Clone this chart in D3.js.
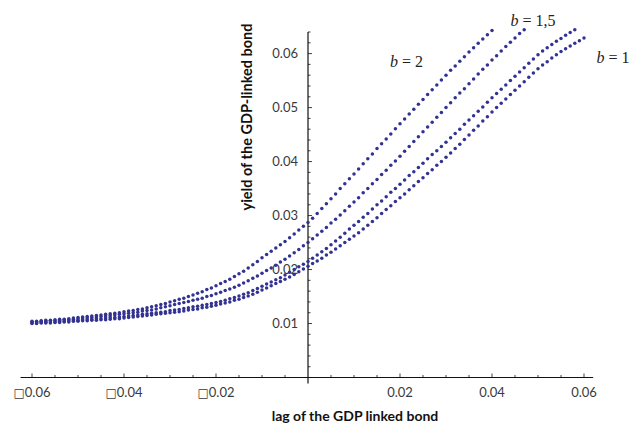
<!DOCTYPE html>
<html>
<head>
<meta charset="utf-8">
<script src="https://cdn.jsdelivr.net/npm/d3@7"></script>
<style>
  html, body { margin: 0; padding: 0; background: #fff; }
  svg { display: block; }
</style>
</head>
<body>
<svg id="chart" width="630" height="426"></svg>
<script>
// Lag grid shared by all series (step 0.001, from -0.06 upwards)
const lagGrid = d3.range(-60, 61).map(i => i / 1000);

// Yield of the GDP-linked bond for each elasticity b
const yieldB2 = [
  0.0104,0.0104,0.0105,0.0106,0.0106,0.0107,0.0108,0.0108,0.0109,0.0110,
  0.0111,0.0112,0.0113,0.0114,0.0115,0.0116,0.0117,0.0118,0.0119,0.0120,
  0.0122,0.0123,0.0124,0.0126,0.0127,0.0129,0.0131,0.0133,0.0135,0.0137,
  0.0140,0.0142,0.0145,0.0147,0.0150,0.0153,0.0156,0.0159,0.0163,0.0166,
  0.0170,0.0174,0.0178,0.0182,0.0187,0.0192,0.0197,0.0203,0.0209,0.0215,
  0.0222,0.0228,0.0234,0.0240,0.0246,0.0252,0.0259,0.0266,0.0273,0.0280,
  0.0287,0.0295,0.0304,0.0313,0.0322,0.0331,0.0340,0.0350,0.0359,0.0368,
  0.0377,0.0386,0.0396,0.0405,0.0414,0.0424,0.0433,0.0442,0.0451,0.0461,
  0.0470,0.0479,0.0488,0.0497,0.0506,0.0515,0.0524,0.0533,0.0542,0.0551,
  0.0560,0.0569,0.0577,0.0586,0.0594,0.0603,0.0611,0.0619,0.0627,0.0635,
  0.0643
];
const yieldB15 = [
  0.0103,0.0103,0.0104,0.0104,0.0105,0.0105,0.0106,0.0107,0.0107,0.0108,
  0.0109,0.0110,0.0110,0.0111,0.0112,0.0113,0.0114,0.0115,0.0116,0.0117,
  0.0118,0.0119,0.0120,0.0121,0.0123,0.0124,0.0125,0.0127,0.0129,0.0131,
  0.0133,0.0135,0.0137,0.0139,0.0141,0.0143,0.0145,0.0147,0.0150,0.0152,
  0.0155,0.0158,0.0161,0.0164,0.0167,0.0171,0.0175,0.0179,0.0184,0.0188,
  0.0193,0.0198,0.0203,0.0208,0.0214,0.0219,0.0225,0.0231,0.0237,0.0244,
  0.0250,0.0257,0.0264,0.0271,0.0278,0.0286,0.0293,0.0301,0.0309,0.0317,
  0.0325,0.0333,0.0342,0.0350,0.0359,0.0367,0.0376,0.0384,0.0393,0.0401,
  0.0410,0.0419,0.0428,0.0437,0.0446,0.0455,0.0464,0.0473,0.0482,0.0491,
  0.0500,0.0509,0.0518,0.0527,0.0535,0.0544,0.0553,0.0562,0.0571,0.0579,
  0.0588,0.0596,0.0605,0.0613,0.0621,0.0629,0.0637,0.0644
];
const yieldB1a = [
  0.0101,0.0101,0.0102,0.0102,0.0103,0.0103,0.0104,0.0104,0.0105,0.0105,
  0.0106,0.0107,0.0107,0.0108,0.0109,0.0109,0.0110,0.0111,0.0111,0.0112,
  0.0113,0.0114,0.0115,0.0116,0.0117,0.0118,0.0119,0.0120,0.0121,0.0122,
  0.0124,0.0125,0.0126,0.0128,0.0129,0.0131,0.0132,0.0134,0.0135,0.0137,
  0.0139,0.0141,0.0143,0.0146,0.0148,0.0151,0.0154,0.0157,0.0161,0.0165,
  0.0169,0.0173,0.0177,0.0181,0.0185,0.0190,0.0195,0.0200,0.0205,0.0210,
  0.0215,0.0221,0.0227,0.0233,0.0239,0.0246,0.0253,0.0260,0.0267,0.0275,
  0.0282,0.0289,0.0297,0.0304,0.0312,0.0320,0.0327,0.0335,0.0343,0.0350,
  0.0358,0.0366,0.0374,0.0381,0.0389,0.0397,0.0405,0.0413,0.0420,0.0428,
  0.0436,0.0444,0.0452,0.0460,0.0469,0.0477,0.0485,0.0493,0.0501,0.0510,
  0.0518,0.0526,0.0534,0.0542,0.0550,0.0558,0.0566,0.0574,0.0582,0.0590,
  0.0598,0.0605,0.0611,0.0617,0.0623,0.0628,0.0634,0.0639,0.0644
];
const yieldB1 = [
  0.0100,0.0100,0.0101,0.0101,0.0101,0.0102,0.0102,0.0103,0.0103,0.0104,
  0.0104,0.0105,0.0105,0.0106,0.0106,0.0107,0.0107,0.0108,0.0109,0.0109,
  0.0110,0.0111,0.0112,0.0113,0.0114,0.0115,0.0116,0.0117,0.0118,0.0119,
  0.0120,0.0121,0.0122,0.0123,0.0125,0.0126,0.0127,0.0129,0.0130,0.0132,
  0.0134,0.0136,0.0138,0.0140,0.0143,0.0145,0.0148,0.0151,0.0154,0.0158,
  0.0162,0.0166,0.0170,0.0174,0.0178,0.0182,0.0186,0.0191,0.0196,0.0201,
  0.0206,0.0211,0.0216,0.0221,0.0227,0.0232,0.0238,0.0244,0.0250,0.0256,
  0.0262,0.0268,0.0275,0.0282,0.0289,0.0296,0.0304,0.0311,0.0318,0.0326,
  0.0333,0.0340,0.0348,0.0355,0.0363,0.0370,0.0378,0.0385,0.0393,0.0400,
  0.0408,0.0416,0.0424,0.0432,0.0441,0.0449,0.0458,0.0466,0.0475,0.0483,
  0.0492,0.0500,0.0508,0.0516,0.0524,0.0532,0.0540,0.0548,0.0556,0.0564,
  0.0572,0.0579,0.0585,0.0592,0.0598,0.0604,0.0609,0.0614,0.0619,0.0624,
  0.0629
];

// Tick values and their labels (the minus sign shows as a box glyph)
const xTickValues = [-0.06, -0.04, -0.02, 0.02, 0.04, 0.06];
const xTickLabels = ["\u25A10.06", "\u25A10.04", "\u25A10.02", "0.02", "0.04", "0.06"];
const yTickValues = [0.01, 0.02, 0.03, 0.04, 0.05, 0.06];
const yTickLabels = ["0.01", "0.02", "0.03", "0.04", "0.05", "0.06"];

// Curve annotations
const curveLabels = [
  { b: "2",   lag: 0.0178, yld: 0.0575 },
  { b: "1,5", lag: 0.0440, yld: 0.0652 },
  { b: "1",   lag: 0.0627, yld: 0.0582 }
];

const seriesList = [yieldB2, yieldB15, yieldB1a, yieldB1];

const svg = d3.select("#chart");
const x = d3.scaleLinear().domain([-0.0625, 0.0620]).range([20.5, 593.2]);
const y = d3.scaleLinear().domain([0, 0.064]).range([377.5, 32]);

const axisColor = "#111";
const labelColor = "#3a3a3a";
const dotColor = "#323292";
const sansFont = "Lato, 'Open Sans', sans-serif";

// X axis line through y = 0
const gx = svg.append("g");
gx.append("line")
  .attr("x1", x.range()[0]).attr("x2", x.range()[1])
  .attr("y1", y(0)).attr("y2", y(0))
  .attr("stroke", axisColor).attr("stroke-width", 1);

// X minor ticks every 0.005, major at labelled values (drawn upward)
const xMinor = d3.range(-12, 13).map(i => i * 0.005).filter(v => Math.abs(v) > 1e-9);
gx.selectAll("line.xminor").data(xMinor).join("line")
  .attr("class", "xminor")
  .attr("x1", d => x(d)).attr("x2", d => x(d))
  .attr("y1", y(0)).attr("y2", d => y(0) - (xTickValues.some(t => Math.abs(t - d) < 1e-9) ? 4 : 2.5))
  .attr("stroke", axisColor).attr("stroke-width", 0.8);

const xLab = gx.selectAll("text.xlab").data(xTickValues).join("text")
  .attr("class", "xlab")
  .attr("x", d => x(d))
  .attr("y", y(0) + 19)
  .attr("text-anchor", "middle")
  .attr("font-family", sansFont)
  .attr("font-size", 13)
  .attr("fill", labelColor);
xLab.each(function (d, i) {
  const lab = xTickLabels[i];
  const t = d3.select(this);
  if (lab.startsWith("\u25A1")) {
    t.append("tspan").attr("font-family", "'DejaVu Sans', sans-serif").attr("font-size", 12).text("\u25A1");
    t.append("tspan").text(lab.slice(1));
  } else {
    t.text(lab);
  }
});

// Y axis line through x = 0
const gy = svg.append("g");
gy.append("line")
  .attr("x1", x(0)).attr("x2", x(0))
  .attr("y1", y.range()[1]).attr("y2", y(0) + 6)
  .attr("stroke", axisColor).attr("stroke-width", 1.2);

const yMinor = d3.range(1, 33).map(i => i * 0.002);
gy.selectAll("line.yminor").data(yMinor).join("line")
  .attr("class", "yminor")
  .attr("x1", x(0)).attr("x2", d => x(0) + (yTickValues.some(t => Math.abs(t - d) < 1e-9) ? 4 : 2.5))
  .attr("y1", d => y(d)).attr("y2", d => y(d))
  .attr("stroke", axisColor).attr("stroke-width", 0.8);

gy.selectAll("text.ylab").data(yTickValues).join("text")
  .attr("class", "ylab")
  .attr("x", x(0) - 10)
  .attr("y", d => y(d))
  .attr("dy", "0.35em")
  .attr("text-anchor", "end")
  .attr("font-family", sansFont)
  .attr("font-size", 13)
  .attr("fill", labelColor)
  .text((d, i) => yTickLabels[i]);

// Axis titles
svg.append("text")
  .attr("x", 355).attr("y", 421)
  .attr("text-anchor", "middle")
  .attr("font-family", sansFont)
  .attr("font-weight", "bold")
  .attr("font-size", 14)
  .attr("fill", "#111")
  .text("lag of the GDP linked bond");

svg.append("text")
  .attr("transform", "translate(252,117) rotate(-90)")
  .attr("text-anchor", "middle")
  .attr("font-family", sansFont)
  .attr("font-weight", "bold")
  .attr("font-size", 14.5)
  .attr("fill", "#111")
  .text("yield of the GDP-linked bond");

// Dotted series
const gDots = svg.append("g");
seriesList.forEach(vals => {
  gDots.append("g").selectAll("circle").data(vals).join("circle")
    .attr("cx", (d, i) => x(lagGrid[i]))
    .attr("cy", d => y(d))
    .attr("r", 1.75)
    .attr("fill", dotColor);
});

// Curve annotations "b = ..."
curveLabels.forEach(c => {
  const t = svg.append("text")
    .attr("x", x(c.lag)).attr("y", y(c.yld))
    .attr("font-family", "'Liberation Serif', 'DejaVu Serif', serif")
    .attr("font-size", 16)
    .attr("fill", "#222");
  t.append("tspan").attr("font-style", "italic").text("b");
  t.append("tspan").text(" = " + c.b);
});
</script>
</body>
</html>
